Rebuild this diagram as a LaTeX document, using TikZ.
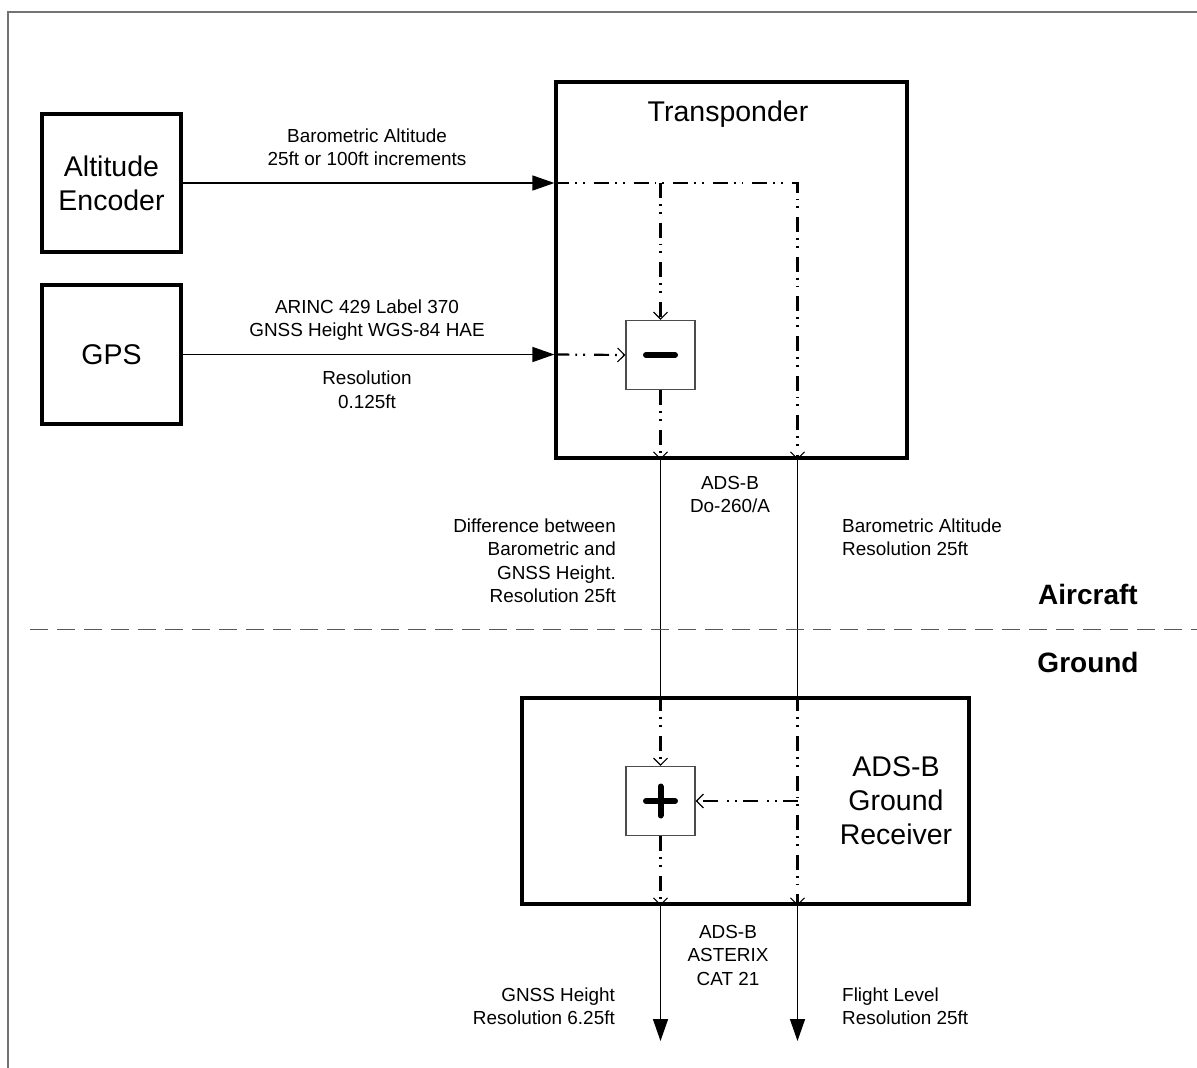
\documentclass[tikz,border=0pt]{standalone}
\usepackage{fontspec}
\setmainfont{Liberation Sans}
\usetikzlibrary{arrows.meta,calc}
\begin{document}
\begin{tikzpicture}[x=1pt,y=-1pt,
  block/.style={draw,line width=3.2pt,inner sep=0pt},
  opbox/.style={draw=black!70,line width=1.4pt,minimum width=69pt,minimum height=69pt,inner sep=0pt},
  big/.style={font=\fontsize{28.5}{34}\selectfont,align=center,inner sep=0pt},
  small/.style={font=\fontsize{18.9}{23.5}\selectfont,inner sep=0pt},
  zone/.style={font=\bfseries\fontsize{28}{34}\selectfont,inner sep=0pt},
  feed/.style={line width=1.5pt,-{Triangle[length=22pt,width=15pt]}},
  wire/.style={line width=1.5pt},
  flowline/.style={line width=2.2pt,dash pattern=on 15pt off 6pt on 1.8pt off 6pt on 1.8pt off 9pt},
  flow/.style={flowline,-{Straight Barb[length=7pt,width=14pt,line width=1.1pt]}},
  sign/.style={line width=6pt,line cap=round},
  frame/.style={draw=black!55,line width=2pt},
  divider/.style={draw=black!65,line width=1.7pt,dash pattern=on 18pt off 9pt},
]
\useasboundingbox (0,0) rectangle (1197,1068);
\fill[white] (0,0) rectangle (1197,1068);

% sheet frame (top and left edges)
\draw[frame] (8,1070) -- (8,12) -- (1199,12);

% equipment blocks
\node[block,minimum width=139pt,minimum height=138pt,big] (enc) at (111.5,183) {Altitude\\Encoder};
\node[block,minimum width=139pt,minimum height=139pt,big] (gps) at (111.5,354.5) {GPS};
\node[block,minimum width=351pt,minimum height=376pt] (xpdr) at (731.5,270) {};
\node[big] (xpdrlabel) at (728,114) {Transponder};
\node[block,minimum width=447pt,minimum height=206pt] (rcv) at (745.5,801) {};
\node[big] (rcvlabel) at (896,801) {ADS-B\\Ground\\Receiver};

% arithmetic blocks
\node[opbox] (minus) at (660.5,355) {};
\draw[sign] ([xshift=-14.5pt]minus.center) -- ([xshift=14.5pt]minus.center);
\node[opbox] (plus) at (660.5,801) {};
\draw[sign] ([xshift=-14.5pt]plus.center) -- ([xshift=14.5pt]plus.center);
\draw[sign] ([yshift=-14.5pt]plus.center) -- ([yshift=14.5pt]plus.center);

% inputs to the transponder
\draw[feed] (enc.east) -- (enc.east -| xpdr.west);
\draw[feed] (gps.east) -- (gps.east -| xpdr.west);
\node[small,align=center] (encmsg) at (367,147) {Barometric Altitude\\25ft or 100ft increments};
\node[small,align=center] (gpsmsg) at (367,320) {ARINC 429 Label 370\\GNSS Height WGS-84 HAE};
\node[small,align=center] (gpsres) at (367,389.5) {Resolution\\0.125ft};

% internal flows of the transponder
\coordinate (bend) at (797.5,183);
\draw[flow] (enc.east -| xpdr.west) -- (bend) -- (bend |- xpdr.south);
\draw[flow] (minus.north |- enc.east) -- (minus.north);
\draw[flow] (gps.east -| xpdr.west) -- (minus.west);
\draw[flow] (minus.south) -- (minus.south |- xpdr.south);

% air-to-ground link
\draw[wire] (minus.south |- xpdr.south) -- (plus.north |- rcv.north);
\draw[wire] (bend |- xpdr.south) -- (bend |- rcv.north);
\node[small,align=center] (adsb) at (730,494.5) {ADS-B\\Do-260/A};
\node[small,align=right,anchor=east] (diffmsg) at (616,560.5) {Difference between\\Barometric and\\GNSS Height.\\Resolution 25ft};
\node[small,align=left,anchor=west] (baromsg) at (842,537) {Barometric Altitude\\Resolution 25ft};

% aircraft / ground boundary
\coordinate (divL) at (30,629.5);
\coordinate (divR) at (1199,629.5);
\draw[divider] (divL) -- (divR);
\node[zone] (air) at (1088,594) {Aircraft};
\node[zone] (gnd) at (1088,662) {Ground};

% internal flows of the ground receiver
\draw[flow] (plus.north |- rcv.north) -- (plus.north);
\draw[flow] (bend |- rcv.north) -- (bend |- rcv.south);
\draw[flow] (bend |- plus.east) -- (plus.east);
\draw[flow] (plus.south) -- (plus.south |- rcv.south);

% outputs
\coordinate (outA) at (660.5,1041);
\coordinate (outB) at (797.5,1041);
\draw[feed] (plus.south |- rcv.south) -- (outA);
\draw[feed] (bend |- rcv.south) -- (outB);
\node[small,align=center] (asterix) at (728,955) {ADS-B\\ASTERIX\\CAT 21};
\node[small,align=right,anchor=east] (gnssout) at (615,1006) {GNSS Height\\Resolution 6.25ft};
\node[small,align=left,anchor=west] (flout) at (842,1006) {Flight Level\\Resolution 25ft};
\end{tikzpicture}
\end{document}
